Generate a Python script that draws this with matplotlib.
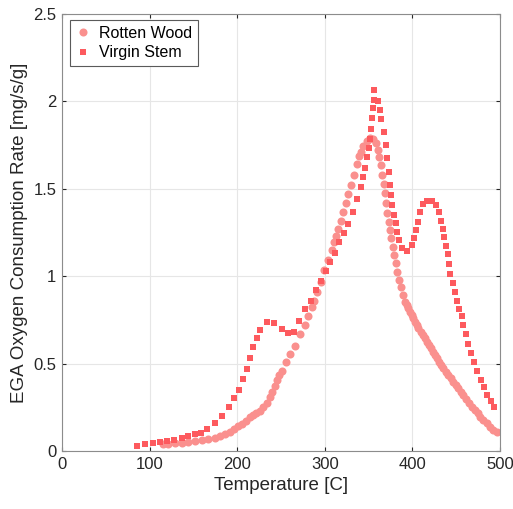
import matplotlib.pyplot as plt

plt.rcParams['font.family'] = ['Liberation Sans', 'DejaVu Sans']

# Rotten wood: temperature [C] and EGA oxygen consumption rate [mg/s/g]
rotten_T = [115.6, 121.3, 129, 136.6, 144.2, 151.8, 159.5, 167.1, 174.7, 180.4,
            186, 191.5, 196.5, 201, 205.5, 210, 214.6, 218.4, 222, 226,
            229.8, 233.7, 237.4, 239.7, 243.2, 245.8, 247.7, 251.1, 256.1, 260.3,
            266, 271.7, 277.4, 281.2, 285, 288, 291.5, 295.3, 299.5, 304,
            307.9, 310.9, 312.8, 314.8, 318.2, 321.2, 324.2, 326.9, 329.6, 333,
            336.6, 339.5, 341.5, 344, 347.8, 351.6, 355.4, 358.4, 360.4, 362.2,
            364, 365.8, 367.6, 368.8, 370, 371.3, 372.7, 374.4, 375.8, 377.3,
            379, 381.3, 382.8, 385, 387, 389, 391.6, 393.5, 395.4, 397.3,
            399.2, 401.1, 403, 405, 406.8, 409.3, 411.8, 414.1, 416.4, 418.6,
            420.9, 423.3, 425.8, 428.3, 430.8, 433.1, 435.4, 438.2, 441.1, 444,
            446.8, 449.6, 452.5, 455.3, 458.2, 461.6, 465.1, 468.3, 471.6, 474.4,
            477.3, 481, 484.8, 488.6, 492.5, 496]
rotten_rate = [0.038, 0.040, 0.044, 0.048, 0.051, 0.057, 0.060, 0.069, 0.076, 0.084,
               0.097, 0.110, 0.125, 0.143, 0.155, 0.170, 0.193, 0.205, 0.218, 0.228,
               0.250, 0.275, 0.310, 0.335, 0.372, 0.405, 0.435, 0.459, 0.507, 0.555,
               0.603, 0.667, 0.719, 0.772, 0.825, 0.860, 0.910, 0.969, 1.036, 1.093,
               1.150, 1.198, 1.230, 1.268, 1.318, 1.367, 1.417, 1.468, 1.522, 1.580,
               1.640, 1.685, 1.712, 1.746, 1.773, 1.788, 1.785, 1.760, 1.722, 1.684,
               1.636, 1.579, 1.526, 1.474, 1.418, 1.360, 1.312, 1.264, 1.217, 1.169,
               1.121, 1.074, 1.026, 0.978, 0.940, 0.892, 0.854, 0.835, 0.816, 0.797,
               0.778, 0.759, 0.740, 0.721, 0.702, 0.683, 0.664, 0.645, 0.626, 0.607,
               0.587, 0.568, 0.549, 0.530, 0.511, 0.492, 0.473, 0.454, 0.435, 0.416,
               0.397, 0.378, 0.359, 0.340, 0.320, 0.297, 0.273, 0.254, 0.235, 0.216,
               0.197, 0.178, 0.159, 0.140, 0.120, 0.110]

# Virgin stem
virgin_T = [86, 94.6, 103.4, 111.7, 120, 128, 136.6, 144.2, 151.8, 158.7,
            165.9, 175, 183, 190.3, 196, 201.7, 207, 211.2, 215, 218.4,
            222.6, 226.4, 233.7, 242, 250.8, 258, 265.2, 270.2, 277.4, 283.9,
            290, 295.5, 301, 306, 311.3, 316.2, 321.5, 326.5, 332.2, 336.8,
            341, 343.4, 346.3, 348.6, 350.2, 351.7, 353.2, 354.3, 355.1, 355.9,
            356.6, 360.4, 362.7, 364.2, 367.2, 369.5, 370.7, 372.9, 374.4, 375.2,
            377.1, 378.7, 381, 382.8, 384.7, 388.1, 393.5, 399.2, 401.8, 404.1,
            406.1, 409, 411.8, 416.4, 422.1, 427, 430.8, 432.8, 434.7, 436.5,
            438.4, 440.3, 442.2, 443, 446, 448.6, 450.9, 453.5, 456.3, 458.1,
            460.8, 463.8, 467.2, 470.3, 474.1, 478.3, 481.7, 485.5, 489.4, 493.2]
virgin_rate = [0.030, 0.038, 0.044, 0.050, 0.056, 0.063, 0.073, 0.084, 0.095, 0.105,
               0.124, 0.162, 0.200, 0.254, 0.305, 0.349, 0.412, 0.471, 0.532, 0.593,
               0.646, 0.692, 0.736, 0.732, 0.696, 0.673, 0.683, 0.742, 0.812, 0.860,
               0.919, 0.975, 1.031, 1.083, 1.134, 1.196, 1.249, 1.300, 1.369, 1.443,
               1.512, 1.566, 1.621, 1.680, 1.732, 1.785, 1.842, 1.903, 1.962, 2.010,
               2.064, 2.004, 1.953, 1.898, 1.827, 1.751, 1.675, 1.598, 1.522, 1.464,
               1.407, 1.350, 1.303, 1.255, 1.207, 1.160, 1.146, 1.178, 1.217, 1.264,
               1.312, 1.366, 1.413, 1.432, 1.432, 1.408, 1.370, 1.316, 1.269, 1.224,
               1.173, 1.125, 1.068, 1.011, 0.959, 0.911, 0.860, 0.812, 0.772, 0.721,
               0.669, 0.612, 0.559, 0.508, 0.459, 0.406, 0.364, 0.320, 0.288, 0.250]

x_ticks = [0, 100, 200, 300, 400, 500]
y_ticks = [0, 0.5, 1, 1.5, 2, 2.5]
y_tick_labels = ['0', '0.5', '1', '1.5', '2', '2.5']

fig = plt.figure(figsize=(5.13, 5.09), dpi=100)
ax = fig.add_axes([0.1209, 0.114, 0.8538, 0.8585])

ax.plot(rotten_T, rotten_rate, 'o', color='#FA908E', markersize=5.8,
        markeredgewidth=0, label='Rotten Wood')
ax.plot(virgin_T, virgin_rate, 's', color='#FD5A5E', markersize=4.3,
        markeredgewidth=0, label='Virgin Stem')

ax.set_xlim(0, 500)
ax.set_ylim(0, 2.5)
ax.set_xticks(x_ticks)
ax.set_yticks(y_ticks)
ax.set_yticklabels(y_tick_labels)
ax.grid(True, color='#E6E6E6', linewidth=0.8)
ax.set_axisbelow(True)
ax.tick_params(direction='in', length=3, colors='#262626', labelsize=12,
               top=True, right=True, pad=4)
for side in ax.spines.values():
    side.set_color('#8C8C8C')
    side.set_linewidth(0.8)

ax.set_xlabel('Temperature [C]', fontsize=13.5, color='#262626', labelpad=4)
ax.set_ylabel('EGA Oxygen Consumption Rate [mg/s/g]', fontsize=13.5,
              color='#262626', labelpad=4)

leg = ax.legend(loc='upper left', fontsize=11.5, fancybox=False, framealpha=1,
                edgecolor='#5A5A5A', borderpad=0.35, handlelength=0.9,
                handletextpad=0.6, labelspacing=0.3, borderaxespad=0,
                bbox_to_anchor=(0.018, 0.986))
leg.get_frame().set_linewidth(0.8)

fig.savefig('out.png', dpi=100)
plt.close(fig)
